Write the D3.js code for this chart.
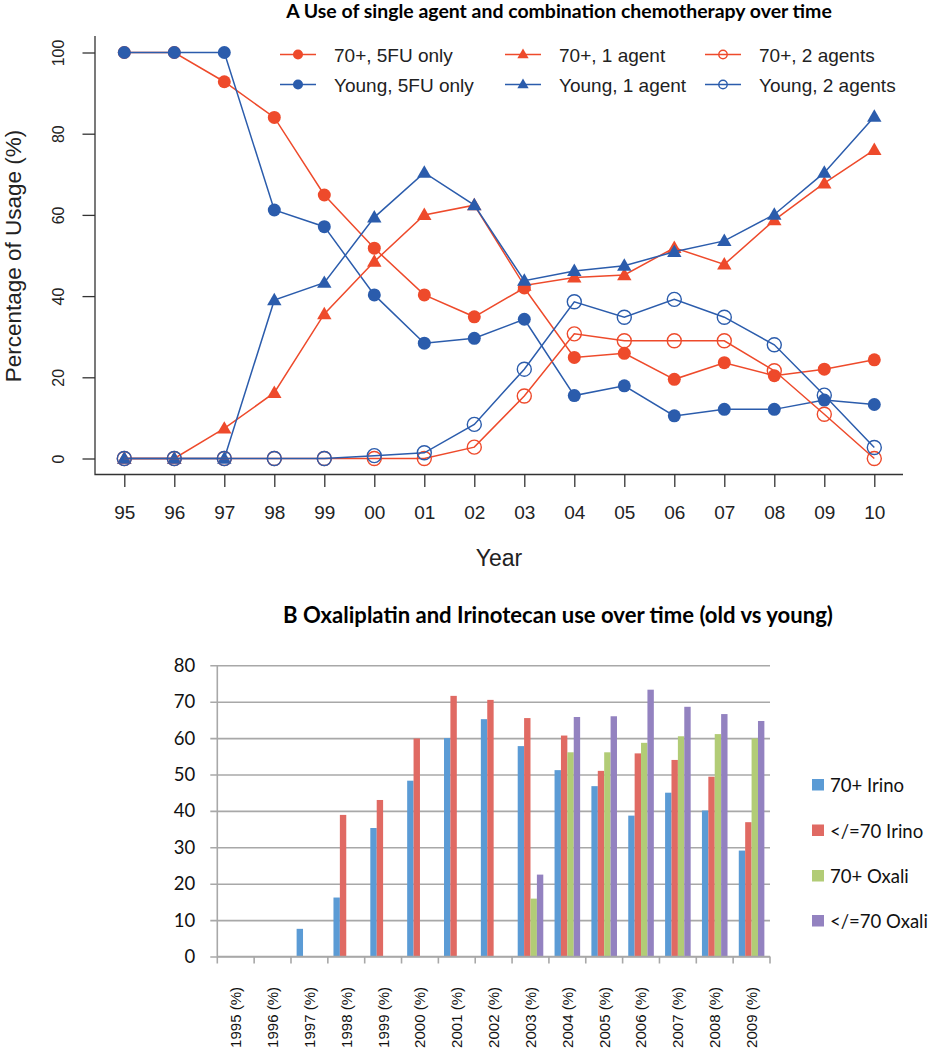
<!DOCTYPE html>
<html>
<head>
<meta charset="utf-8">
<script src="https://cdn.jsdelivr.net/npm/d3@7/dist/d3.min.js"></script>
<style>
  html, body { margin: 0; padding: 0; background: #fff; }
  svg { display: block; }
</style>
</head>
<body>
<svg id="chart" width="932" height="1050"></svg>
<script>
// ---------- Panel A data ----------
const yearsA = ["95","96","97","98","99","00","01","02","03","04","05","06","07","08","09","10"];
const old5FU   = [100,100,92.8,84.0,64.9,51.8,40.3,34.9,42.0,24.9,25.9,19.5,23.6,20.4,22.0,24.3];
const young5FU = [100,100,100,61.2,57.1,40.3,28.4,29.6,34.3,15.5,17.9,10.5,12.1,12.1,14.4,13.3];
const old1     = [0,0,7.4,16.2,35.6,48.5,60.0,62.4,42.6,44.6,45.2,51.9,47.8,58.7,67.8,76.0];
const young1   = [0,0,0,39.0,43.3,59.4,70.4,62.4,43.8,46.2,47.5,50.9,53.6,60.1,70.4,84.2];
const old2     = [0,0,0,0,0,0,0,2.8,15.4,30.7,29.0,29.0,29.0,21.6,10.9,0];
const young2   = [0,0,0,0,0,0.7,1.4,8.4,22.0,38.6,34.8,39.2,34.8,28.0,15.6,2.7];
const ticksA   = [0,20,40,60,80,100];
const seriesNamesA = ["70+, 5FU only","Young, 5FU only","70+, 1 agent","Young, 1 agent","70+, 2 agents","Young, 2 agents"];

// ---------- Panel B data ----------
const yearsB = ["1995 (%)","1996 (%)","1997 (%)","1998 (%)","1999 (%)","2000 (%)","2001 (%)","2002 (%)","2003 (%)","2004 (%)","2005 (%)","2006 (%)","2007 (%)","2008 (%)","2009 (%)"];
const irinoOld   = [0,0,7.6,16.2,35.3,48.3,60.0,65.2,57.8,51.2,46.8,38.7,45.0,40.1,29.1];
const irinoYoung = [0,0,0,38.9,43.0,59.9,71.6,70.5,65.5,60.7,51.0,55.8,54.0,49.4,36.9];
const oxaliOld   = [0,0,0,0,0,0,0,0,15.9,56.1,56.1,58.7,60.5,61.1,59.9];
const oxaliYoung = [0,0,0,0,0,0,0,0,22.5,65.8,66.0,73.3,68.6,66.6,64.7];
const seriesNamesB = ["70+ Irino","</=70 Irino","70+ Oxali","</=70 Oxali"];
const ticksB = [0,10,20,30,40,50,60,70,80];

const svg = d3.select("#chart");
const RED = "#EE4A2B", BLUE = "#2B5CAC";

function fitTitle(sel, targetW, base) {
  sel.style("font-size", base + "px");
  const w = sel.node().getComputedTextLength();
  sel.style("font-size", (base * targetW / w).toFixed(2) + "px");
}

// ================= Panel A =================
const gA = svg.append("g");
const xA = d3.scaleLinear().domain([0, yearsA.length - 1]).range([124.3, 874.3]);
const yA = d3.scaleLinear().domain([0, 100]).range([458.5, 52.5]);

const tA = gA.append("text").attr("x", 559).attr("y", 18).attr("text-anchor", "middle")
  .style("font-family", "Lato, 'Open Sans', sans-serif").style("font-weight", "bold")
  .text("A Use of single agent and combination chemotherapy over time");
fitTitle(tA, 546, 18);

// L-shaped frame
gA.append("path").attr("d", "M95,36V474.5H903").attr("fill", "none").attr("stroke", "#333").attr("stroke-width", 1.3);

const axL = gA.append("g").attr("transform", "translate(95,0)")
  .call(d3.axisLeft(yA).tickValues(ticksA).tickSize(12.5).tickFormat(d3.format("d")));
axL.select(".domain").remove();
axL.selectAll(".tick line").attr("stroke", "#333").attr("stroke-width", 1.3);
axL.selectAll(".tick text").attr("x", null).attr("dy", null)
  .attr("transform", "translate(-31.5,0) rotate(-90)")
  .attr("text-anchor", "middle")
  .style("font-family", "'Liberation Sans', Arial, sans-serif").style("font-size", "16px").attr("fill", "#222");

const axB = gA.append("g").attr("transform", "translate(0,474.5)")
  .call(d3.axisBottom(xA).tickValues(d3.range(yearsA.length)).tickSize(12.5).tickFormat(i => yearsA[i]));
axB.select(".domain").remove();
axB.selectAll(".tick line").attr("stroke", "#333").attr("stroke-width", 1.3);
axB.selectAll(".tick text").attr("dy", null).attr("y", 44)
  .style("font-family", "'Liberation Sans', Arial, sans-serif").style("font-size", "19px").attr("fill", "#222");

gA.append("text").attr("x", 499).attr("y", 566).attr("text-anchor", "middle")
  .style("font-family", "'Liberation Sans', Arial, sans-serif").style("font-size", "23px").attr("fill", "#222")
  .text("Year");
gA.append("text").attr("transform", "translate(21,256) rotate(-90)").attr("text-anchor", "middle")
  .style("font-family", "'Liberation Sans', Arial, sans-serif").style("font-size", "22.5px").attr("fill", "#222")
  .text("Percentage of Usage (%)");

const seriesA = [
  {name: seriesNamesA[0], vals: old5FU,   color: RED,  mark: "dot"},
  {name: seriesNamesA[1], vals: young5FU, color: BLUE, mark: "dot"},
  {name: seriesNamesA[2], vals: old1,     color: RED,  mark: "tri"},
  {name: seriesNamesA[3], vals: young1,   color: BLUE, mark: "tri"},
  {name: seriesNamesA[4], vals: old2,     color: RED,  mark: "ring"},
  {name: seriesNamesA[5], vals: young2,   color: BLUE, mark: "ring"}
];
const line = d3.line().x((d, i) => xA(i)).y(d => yA(d));

function drawMarker(g, mark, color, cx, cy, big) {
  if (mark === "dot") {
    g.append("circle").attr("cx", cx).attr("cy", cy).attr("r", big ? 6.5 : 5).attr("fill", color);
  } else if (mark === "tri") {
    g.append("path").attr("transform", `translate(${cx},${cy + (big ? 1 : 0.5)})`)
      .attr("d", d3.symbol().type(d3.symbolTriangle).size(big ? 90 : 55)()).attr("fill", color);
  } else {
    g.append("circle").attr("cx", cx).attr("cy", cy).attr("r", big ? 7 : 4.2)
      .attr("fill", "none").attr("stroke", color).attr("stroke-width", 1.4);
  }
}

seriesA.forEach(s => {
  const g = gA.append("g");
  g.append("path").attr("d", line(s.vals)).attr("fill", "none").attr("stroke", s.color).attr("stroke-width", 1.5);
  s.vals.forEach((v, i) => drawMarker(g, s.mark, s.color, xA(i), yA(v), true));
});

// Legend A (3 columns x 2 rows)
const legCols = [280, 505, 705];
const legRows = [54.5, 84.5];
const legOrder = [[0, 2, 4], [1, 3, 5]];
legOrder.forEach((row, r) => row.forEach((si, c) => {
  const s = seriesA[si];
  const g = gA.append("g");
  const x0 = legCols[c], y0 = legRows[r];
  g.append("line").attr("x1", x0).attr("x2", x0 + 36).attr("y1", y0).attr("y2", y0)
    .attr("stroke", s.color).attr("stroke-width", 1.5);
  drawMarker(g, s.mark, s.color, x0 + 18, y0, false);
  g.append("text").attr("x", x0 + 54).attr("y", y0 + 7)
    .style("font-family", "'Liberation Sans', Arial, sans-serif").style("font-size", "19px").attr("fill", "#222")
    .text(s.name);
}));

// ================= Panel B =================
const gB = svg.append("g");
const tB = gB.append("text").attr("x", 558).attr("y", 623).attr("text-anchor", "middle")
  .style("font-family", "Lato, 'Open Sans', sans-serif").style("font-weight", "bold")
  .text("B Oxaliplatin and Irinotecan use over time (old vs young)");
fitTitle(tB, 550, 19);

const xB = d3.scaleBand().domain(yearsB).range([217.3, 770]).padding(0);
const xS = d3.scaleBand().domain(seriesNamesB).range([0, xB.bandwidth()]).paddingInner(0).paddingOuter(0.88);
const yB = d3.scaleLinear().domain([0, 80]).range([956.5, 665.3]);
const colorsB = ["#5B9BD5", "#E06A63", "#B2CC76", "#9382C0"];
const GRID = "#A8A8A8";

// gridlines + y axis ticks
const axYB = gB.append("g").attr("transform", "translate(217.3,0)")
  .call(d3.axisLeft(yB).tickValues(ticksB).tickSize(7).tickPadding(15));
axYB.select(".domain").attr("stroke", GRID).attr("stroke-width", 1.6).attr("d", "M0,665.3V956.5");
axYB.selectAll(".tick line").attr("stroke", GRID).attr("stroke-width", 1.6).attr("x2", 770 - 217.3).attr("x1", -7);
axYB.selectAll(".tick text").style("font-family", "Lato, 'Open Sans', sans-serif").style("font-size", "18.5px").attr("fill", "#111");

// bars
const dataB = [irinoOld, irinoYoung, oxaliOld, oxaliYoung];
dataB.forEach((vals, si) => {
  gB.append("g").selectAll("rect").data(vals).join("rect")
    .attr("x", (d, i) => xB(yearsB[i]) + xS(seriesNamesB[si]))
    .attr("width", xS.bandwidth())
    .attr("y", d => yB(d))
    .attr("height", d => yB(0) - yB(d))
    .attr("fill", colorsB[si]);
});

// x axis (0 line redrawn on top) + ticks at category boundaries
gB.append("line").attr("x1", 217.3).attr("x2", 770).attr("y1", yB(0)).attr("y2", yB(0))
  .attr("stroke", GRID).attr("stroke-width", 1.6);
const bounds = yearsB.map(d => xB(d)).concat([xB.range()[1]]);
gB.append("g").selectAll("line").data(bounds).join("line")
  .attr("x1", d => d).attr("x2", d => d).attr("y1", yB(0)).attr("y2", yB(0) + 7)
  .attr("stroke", GRID).attr("stroke-width", 1.6);
gB.append("g").selectAll("text").data(yearsB).join("text")
  .attr("transform", d => `translate(${xB(d) + xB.bandwidth() / 2},987) rotate(-90)`)
  .attr("text-anchor", "end").attr("dy", "0.36em")
  .style("font-family", "'Liberation Sans', Arial, sans-serif").style("font-size", "15px").attr("fill", "#111")
  .text(d => d);

// legend B
const legY = [785, 830.5, 876, 921];
const legTexts = [];
seriesNamesB.forEach((n, i) => {
  gB.append("rect").attr("x", 812).attr("y", legY[i] - 6).attr("width", 12).attr("height", 11.5).attr("fill", colorsB[i]);
  legTexts.push(gB.append("text").attr("x", 830).attr("y", legY[i] + 7)
    .style("font-family", "Lato, 'Open Sans', sans-serif").style("font-size", "19px").attr("fill", "#111")
    .text(n));
});
const longest = d3.max(legTexts, t => t.node().getComputedTextLength());
const legSize = Math.min(19, 19 * 98 / longest);
legTexts.forEach(t => t.style("font-size", legSize.toFixed(2) + "px"));
</script>
</body>
</html>
